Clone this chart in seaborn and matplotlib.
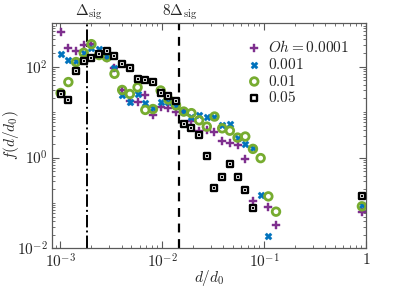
import numpy as np
import pandas as pd
import matplotlib
matplotlib.use("Agg")
import matplotlib.pyplot as plt
import matplotlib.ticker as mticker
import seaborn as sns

# ---- data ----
d_bins = [1.009e-3, 1.201e-3, 1.429e-3, 1.700e-3, 2.023e-3, 2.406e-3, 2.864e-3,
          3.407e-3, 4.055e-3, 4.825e-3, 5.741e-3, 6.832e-3, 8.128e-3, 9.672e-3,
          1.151e-2, 1.369e-2, 1.629e-2, 1.939e-2, 2.307e-2, 2.745e-2, 3.266e-2,
          3.886e-2, 4.624e-2, 5.502e-2, 6.546e-2, 7.789e-2, 9.268e-2, 0.1103,
          0.1312, 0.914]

f_oh_0001 = [580, 262, 225, 295, 315, 182, 158, 93, 30.8, 17.8, 17, 23.9, 8.7, 13.2,
             12.6, 10.3, 10, 6.5, 3.9, 4.0, 3.7, 2.3, 2.07, 1.84, 0.92, 0.109, None,
             0.082, 0.033, 0.063]
f_oh_001 = [187, 138, 132, 203, 258, 241, 166, 95, 23.4, 17, 25.1, 15.7, 12.3, 17,
            16.6, 13.5, 10, 8.0, 8.7, 7.7, 7.9, 5.2, 5.5, 2.7, 1.97, 1.58, 0.151,
            0.019, None, 0.089]
f_oh_01 = [26.4, 46, 127, 203, 315, 181, 163, 70, 30.8, 25.1, 35.2, 11.2, 11.7, 30,
           19, 14.1, 10.3, 9.5, 6.6, 4.8, 8.0, 4.4, 3.9, 2.75, 2.9, 1.55, 0.97,
           0.139, 0.064, 0.084]
f_oh_05 = [24.5, 18.3, 82, 136, 159, 187, 225, 172, 116, 92, 54, 52, 47, 26, 23,
           17.2, 5.4, 4.5, 3.1, 1.06, 0.216, 0.37, 0.71, 0.37, 0.19, 0.0785, None,
           None, None, 0.139]

legend_labels = [r"$Oh = 0.0001$", r"$0.001$", r"$0.01$", r"$0.05$"]
delta_sig = 1.84e-3

# ---- style ----
sns.set_theme(style="ticks")
plt.rcParams["font.family"] = ["DejaVu Serif"]
plt.rcParams["mathtext.fontset"] = "cm"
plt.rcParams["axes.unicode_minus"] = False

purple = "#7E2F8E"
blue = "#0072BD"
green = "#77AC30"

def col(v):
    return pd.to_numeric(pd.Series(v, dtype="float64"))

df = pd.DataFrame({"d": d_bins, "a": col(f_oh_0001), "b": col(f_oh_001),
                   "c": col(f_oh_01), "e": col(f_oh_05)})

fig = plt.figure(figsize=(3.99, 2.89), dpi=100)
ax = fig.add_axes([0.131, 0.141, 0.786, 0.780])

sns.scatterplot(data=df, x="d", y="a", marker="P", s=27, color=purple,
                edgecolor=purple, linewidth=0.3, ax=ax, label=legend_labels[0], zorder=3)
sns.scatterplot(data=df, x="d", y="b", marker="X", s=26, color=blue,
                edgecolor=blue, linewidth=0.3, ax=ax, label=legend_labels[1], zorder=3)
sns.scatterplot(data=df, x="d", y="c", marker="o", s=30, facecolor="none",
                edgecolor=green, linewidth=2.0, ax=ax, label=legend_labels[2], zorder=4)
sns.scatterplot(data=df, x="d", y="e", marker="s", s=17, color="white",
                edgecolor="black", linewidth=1.7, ax=ax, label=legend_labels[3], zorder=5)
sns.scatterplot(data=df, x="d", y="e", marker="s", s=1.5, color="black",
                edgecolor="black", linewidth=0, ax=ax, zorder=6, legend=False)

ax.axvline(delta_sig, color="black", linestyle="-.", linewidth=1.4, zorder=2)
ax.axvline(8 * delta_sig, color="black", linestyle=(0, (4, 3)), linewidth=1.6, zorder=2)

ax.set_xscale("log")
ax.set_yscale("log")
ax.set_xlim(8.35e-4, 1.0)
ax.set_ylim(1e-2, 930)

ax.set_xticks([1e-3, 1e-2, 1e-1, 1])
ax.set_xticklabels([r"$10^{-3}$", r"$10^{-2}$", r"$10^{-1}$", r"$1$"])
ax.set_yticks([1e-2, 1, 1e2])
ax.set_yticklabels([r"$10^{-2}$", r"$10^{0}$", r"$10^{2}$"])
ax.xaxis.set_minor_locator(mticker.LogLocator(base=10, subs=np.arange(2, 10), numticks=20))
ax.yaxis.set_minor_locator(mticker.LogLocator(base=10, subs=np.arange(1, 10), numticks=20))
ax.yaxis.set_minor_formatter(mticker.NullFormatter())
ax.xaxis.set_minor_formatter(mticker.NullFormatter())

ax.tick_params(which="both", direction="in", top=True, right=True, color="0.35",
               labelsize=11, labelcolor="0.15")
ax.tick_params(which="major", length=5, width=0.8, pad=3)
ax.tick_params(which="minor", length=2.5, width=0.6)
for sp in ax.spines.values():
    sp.set_color("0.35")
    sp.set_linewidth(0.9)

ax.set_xlabel(r"$d/d_0$", fontsize=11, color="0.15", labelpad=-2)
ax.set_ylabel(r"$f(d/d_0)$", fontsize=11, color="0.15", labelpad=-3)

ax.text(delta_sig * 1.04, 1.005, r"$\Delta_{\rm sig}$", transform=ax.get_xaxis_transform(),
        ha="center", va="bottom", fontsize=11, color="0.15")
ax.text(8 * delta_sig, 1.005, r"$8\Delta_{\rm sig}$", transform=ax.get_xaxis_transform(),
        ha="center", va="bottom", fontsize=11, color="0.15")

leg = ax.legend(loc="upper right", frameon=False, fontsize=11, handletextpad=0.4,
                labelspacing=0.12, borderaxespad=0.5, handlelength=1.0,
                bbox_to_anchor=(0.99, 0.99))

fig.savefig("out.png", dpi=100)
